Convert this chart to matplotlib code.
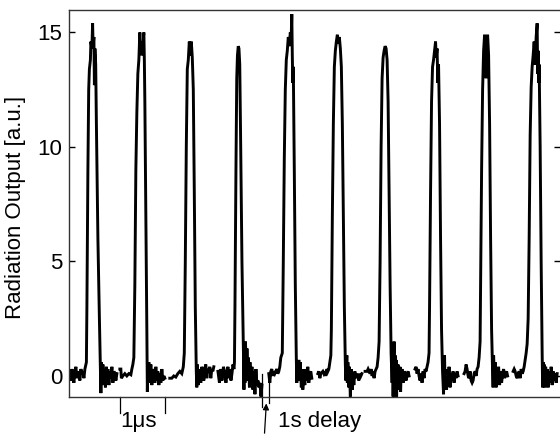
import matplotlib
matplotlib.use("Agg")
import matplotlib.pyplot as plt

plt.rcParams['font.family'] = ['Liberation Sans', 'DejaVu Sans']

# ---- data -------------------------------------------------------------
# oscilloscope sample step (one sample = 1/45 us)
SAMPLE_US = 1.0 / 45.0

# start time (us) of each 1-us acquisition window (consecutive shots, 1 s apart)
segment_start_us = [0.02, 1.13, 2.24, 3.31, 4.44, 5.53, 6.58, 7.69, 8.78, 9.87]

# (sample offset, radiation output [a.u.]), one list per shot
trace_1 = [(0, 0.1), (1, -0.2), (2, 0.3), (3, 0.0), (4, -0.3), (5, 0.2), (6, 0.4), (7, -0.1),
           (8, 0.2), (9, 0.0), (10, -0.2), (11, 0.3), (12, 0.1), (13, 0.2), (14, -0.1), (15, 0.3),
           (16, 0.5), (16.5, 0.6), (17, 3), (18, 9), (18.8, 12.5), (19.5, 13.4), (20.5, 13.8),
           (21, 14.6), (22, 14.3), (22.7, 15.4), (23.2, 14.4), (24, 14.8), (24.5, 12.7),
           (25, 14.3), (25.8, 13.6), (26.5, 11), (28, 6), (29.5, 2.5), (30.5, 0.3), (31, -0.75),
           (31.5, 0.6), (32.5, -0.2), (33, 0.5), (34, -0.4), (35, 0.3), (35.5, -0.5), (36.5, 0.4),
           (37, -0.2), (38, 0.3), (39, -0.4), (40, 0.2), (41, -0.1), (42, 0.4), (43, -0.3),
           (44, 0.2), (45, 0.1), (46, -0.2), (47, 0.1)]
trace_2 = [(0, 0.3), (1, 0.3), (1.5, -0.1), (3, 0.0), (5, 0.1), (7, 0.0), (9, 0.1), (11, 0.05),
           (12, 0.3), (13, 0.5), (14, 0.8), (15, 4), (16, 9), (17, 11.5), (18, 13.2), (19, 13.8),
           (20, 15.0), (20.5, 14.3), (21.5, 14.6), (22, 14.0), (23, 14.4), (24, 15.0),
           (24.5, 13.8), (25, 12), (26, 7), (27, 2), (27.5, -0.7), (28, 0.6), (28.5, -0.2),
           (29, 0.6), (30, -0.3), (31, 0.5), (32, -0.4), (33, 0.3), (34, 0.1), (35, -0.3),
           (36, 0.4), (37, -0.2), (38, 0.2), (39, -0.4), (40, 0.1), (41, -0.3), (42, 0.3),
           (43, -0.2), (44, 0.0), (45, -0.1)]
trace_3 = [(0, -0.1), (2, -0.1), (4, 0.0), (6, -0.05), (8, 0.1), (10, 0.2), (12, 0.1),
           (13.5, 0.4), (14.5, 1), (15.5, 5), (16.5, 10), (17.5, 13.4), (18.5, 13.8),
           (19.5, 14.6), (20.5, 14.0), (21.5, 14.6), (22.5, 13.9), (23.5, 12.5), (24.5, 8),
           (25.5, 3), (26.5, 0.2), (27, -0.5), (27.5, 0.5), (28.5, -0.4), (29.5, 0.3), (30, 0.1),
           (31, -0.3), (32, 0.4), (33, 0.2), (34, -0.2), (35, 0.3), (36, 0.5), (37, -0.1),
           (38, 0.3), (39, 0.2), (40, 0.4), (41, -0.1), (42, 0.3), (43, 0.2), (44, 0.4)]
trace_4 = [(0, 0.2), (1.5, -0.3), (3, 0.3), (4, -0.2), (5.5, 0.4), (7, 0.1), (8, -0.3),
           (9, 0.2), (10, 0.4), (11, -0.1), (12, 0.3), (13, -0.2), (14, 0.1), (15, 0.5),
           (16, 0.3), (16.5, 0.6), (17, 3), (18, 9), (18.8, 13), (19.5, 14.0), (20.3, 14.4),
           (21, 14.3), (21.8, 13.6), (22.5, 11), (24, 5), (25.5, 1), (26, -0.6), (26.5, 0.9),
           (27, -0.3), (27.5, 1.5), (28.5, 0.2), (29, 1.2), (30, -0.2), (30.5, 0.8), (31.5, -0.5),
           (32, 0.6), (33, -0.3), (34, 0.4), (35, -0.6), (36, 0.2), (37, -0.8), (38, 0.3),
           (39, -0.4), (40, -0.2), (41, -0.5), (42, -0.3), (43, -0.9), (44, -0.4)]
trace_5 = [(0, 0.1), (1, -0.3), (2, 0.2), (3, 0.3), (4, 0.0), (5, 0.2), (6, 0.1), (7, 0.2),
           (8, 0.3), (9, 0.1), (10, 0.2), (11, 0.4), (12, 0.8), (13.5, 1), (14.5, 5),
           (15.5, 9.5), (16.5, 12.5), (17.5, 13.8), (18.5, 14.2), (19.5, 14.8), (20.5, 14.4),
           (21.5, 15.0), (22.3, 14.6), (23, 15.8), (23.5, 14.0), (24, 12.8), (24.5, 13.5),
           (25.5, 9), (26.5, 4), (27.5, 0.8), (28, -0.3), (28.5, 0.4), (29.5, -0.2), (30, 0.7),
           (31, -0.1), (31.5, 0.6), (32.5, -0.5), (33.5, 0.3), (34, -0.6), (35, 0.2), (36, -0.4),
           (37, 0.3), (38, -0.2), (39, 0.4), (40, -0.3), (41, 0.1), (42, 0.2), (43, -0.1)]
trace_6 = [(0, 0.1), (1, 0.2), (2, -0.1), (3, 0.1), (5, 0.2), (6, 0.1), (7, 0.2), (8, 0.0),
           (9, 0.3), (10, 0.2), (11, 0.3), (12, 0.6), (13, 0.9), (13.5, 2), (14.5, 7),
           (15.5, 11), (16.5, 13.5), (17.5, 14.2), (18.5, 14.6), (19.5, 14.9), (20.5, 14.5),
           (21.5, 14.8), (22.5, 14.3), (23.5, 13.5), (24.5, 11), (25.5, 7), (26.5, 3),
           (27.5, 0.5), (28, -0.2), (29, 0.9), (29.5, -0.3), (30, 0.6), (31, -0.5), (31.5, 0.4),
           (32.5, -0.9), (33, -0.2), (33.5, 0.3), (34.5, -0.6), (35, 0.1), (36, -0.4), (37, 0.2),
           (38, -0.1), (39, 0.1), (40, 0.0), (41, -0.2), (42, 0.1), (43, 0.0), (44, 0.1)]
trace_7 = [(0, 0.2), (2, 0.2), (3, 0.3), (5, 0.1), (6, 0.3), (7, 0.0), (8, 0.2), (9, -0.1),
           (10, 0.2), (11, 0.3), (12, 0.4), (13, 0.8), (14, 1.5), (15, 5), (16, 10), (17, 13),
           (18, 13.9), (19, 14.2), (20, 14.4), (21, 14.3), (22, 13.8), (23, 12), (24, 8), (25, 4),
           (26, 1), (27, -0.3), (27.5, 1), (28, -0.9), (28.5, 0.5), (29, 1.5), (29.5, -0.9),
           (30, 0.9), (30.5, -0.5), (31, 0.7), (31.5, -0.9), (32, 0.3), (33, 0.5), (33.5, -0.6),
           (34, 0.2), (35, 0.4), (35.5, -0.7), (36, 0.1), (37, 0.3), (38, -0.3), (39, 0.2),
           (40, 0.1), (41, -0.2), (42, 0.1), (43, 0.2), (44, 0.0)]
trace_8 = [(0, 0.3), (1, 0.4), (2, 0.1), (3, 0.3), (4, 0.0), (5, -0.2), (6, 0.1), (7, -0.3),
           (8, 0.2), (9, -0.1), (10, 0.3), (11, 0.2), (12, 0.4), (13, 0.6), (14, 1.0),
           (14.5, 3), (15.5, 8), (16.5, 12), (17.5, 13.5), (18.5, 13.8), (19.5, 14.2),
           (20.5, 14.6), (21.2, 13.9), (22, 14.3), (22.8, 12.8), (23.5, 13.6), (24.5, 11),
           (25.5, 6), (26.5, 2), (27.5, 0.2), (28.5, -0.8), (29, 0.5), (29.5, 0.9), (30, -0.4),
           (31, 0.3), (31.5, -0.6), (32.5, 0.2), (33, -0.3), (34, 0.4), (35, -0.5), (36, 0.1),
           (37, -0.2), (38, 0.2), (39, -0.3), (40, 0.1), (41, -0.1), (42, 0.2), (43, 0.0)]
trace_9 = [(0, 0.1), (1, 0.2), (2, 0.5), (3, 0.3), (4, 0.0), (5, -0.1), (6, 0.2), (7, -0.2),
           (8, -0.3), (9, -0.2), (10, 0.1), (11, 0.2), (12, 0.0), (13, 0.3), (14, 0.4),
           (15, 0.8), (16, 1.5), (16.5, 4), (17.5, 9), (18.5, 12.5), (19.5, 14.2), (20.5, 14.9),
           (21.2, 14.4), (22, 13.0), (22.8, 14.5), (23.5, 14.9), (24.5, 14.0), (25.5, 11),
           (26.5, 6), (27.5, 2), (28.5, 0.2), (29, -0.5), (29.5, 0.9), (30.5, -0.3), (31, 0.6),
           (32, -0.5), (33, 0.3), (33.5, -0.2), (34.5, 0.4), (35.5, -0.4), (36.5, 0.2),
           (37.5, -0.3), (38.5, 0.1), (39.5, 0.3), (40.5, -0.1), (41.5, 0.1), (42.5, 0.2),
           (43.5, 0.0)]
trace_10 = [(0, 0.2), (1, 0.3), (2, 0.2), (3, 0.0), (4, -0.1), (5, 0.1), (6, 0.2), (7, -0.1),
            (8, 0.3), (9, 0.1), (10, 0.2), (11, 0.4), (12, 0.7), (13, 1.0), (14, 1.4), (15, 2.5),
            (16, 6), (17, 10.5), (18, 12.6), (19, 13.5), (20, 14.0), (21, 14.6), (22, 13.6),
            (23, 14.8), (24, 15.4), (24.5, 13.2), (25, 14.2), (25.5, 12.8), (26, 13.6), (27, 10),
            (28, 5), (29, 1), (29.5, -0.5), (30, 0.6), (30.5, -0.3), (31, 0.5), (32, -0.5),
            (32.5, 0.4), (33.5, -0.4), (34, 0.3), (35, -0.5), (36, 0.2), (37, -0.3), (38, 0.4),
            (39, -0.4), (40, 0.2), (41, -0.2), (42, 0.1), (43, -0.3), (44, 0.1)]

traces = [trace_1, trace_2, trace_3, trace_4, trace_5,
          trace_6, trace_7, trace_8, trace_9, trace_10]

y_ticks = [0, 5, 10, 15]
y_label = "Radiation Output [a.u.]"
window_label = "1\u03bcs"
delay_label = "1s delay"

# ---- figure -----------------------------------------------------------
fig = plt.figure(figsize=(5.6, 4.37), dpi=100)
ax = fig.add_axes([69 / 560, 1 - 397 / 437, 491 / 560, 387 / 437])

for start, tr in zip(segment_start_us, traces):
    t = [start + s * SAMPLE_US for s, _ in tr]
    y = [v for _, v in tr]
    ax.plot(t, y, color='black', lw=2.1, solid_joinstyle='miter')

ax.set_xlim(0, 491 / 45)
ax.set_ylim(-0.92, 15.98)
ax.set_xticks([])
ax.set_yticks(y_ticks)
ax.tick_params(axis='y', direction='in', length=4, width=1.0, right=True,
               labelsize=16, pad=5)
for sp in ax.spines.values():
    sp.set_linewidth(1.0)
    sp.set_color('#333333')
ax.spines['right'].set_visible(False)

ax.set_ylabel(y_label, fontsize=16)
ax.yaxis.set_label_coords(-0.088, 0.49)

# 1 us window marker (one acquisition window)
w0 = segment_start_us[1]
w1 = segment_start_us[1] + 1.0
for xw in (w0, w1):
    ax.plot([xw, xw], [-0.92, -1.6], color='black', lw=0.9, clip_on=False)
ax.text(w0 + 0.02, -2.0, window_label, fontsize=16, ha='left', va='center')

# 1 s delay marker between shot 4 and shot 5
d0 = segment_start_us[3] + 0.98
d1 = segment_start_us[4]
ax.plot([d0, d0], [0.1, -1.35], color='black', lw=0.9, clip_on=False)
ax.plot([d1, d1], [0.05, -1.18], color='black', lw=0.9, clip_on=False)
ax.annotate('', xy=((d0 + d1) / 2 + 0.02, -1.2), xytext=((d0 + d1) / 2 - 0.02, -2.5),
            arrowprops=dict(arrowstyle='-|>', color='black', lw=0.9,
                            mutation_scale=9, shrinkA=0, shrinkB=0),
            annotation_clip=False)
ax.text(d1 + 0.2, -2.0, delay_label, fontsize=16, ha='left', va='center')

fig.savefig('out.png', dpi=100)
